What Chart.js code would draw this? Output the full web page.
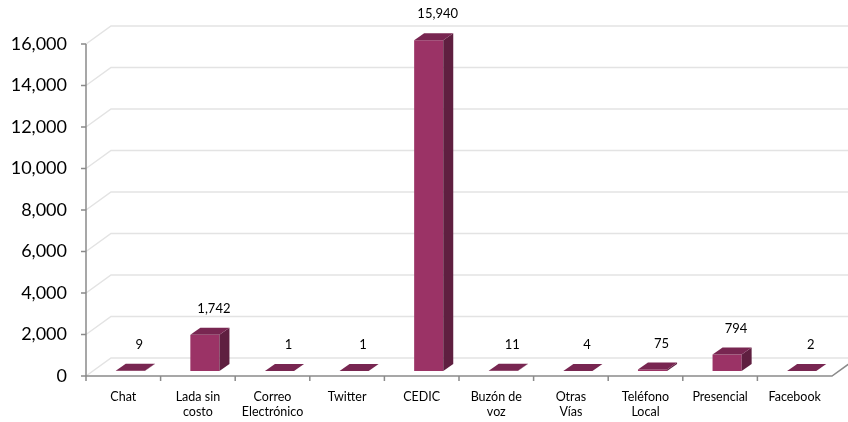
<!DOCTYPE html>
<html>
<head>
<meta charset="utf-8">
<script src="https://cdn.jsdelivr.net/npm/chart.js@4.4.1/dist/chart.umd.min.js"></script>
<style>
body{margin:0;background:#fff}
</style>
</head>
<body>
<canvas id="Grafica1" width="848" height="422"></canvas>
<script>
// datos de la grafica
const categorias = ['Chat', ['Lada sin','costo'], ['Correo','Electrónico'], 'Twitter', 'CEDIC', ['Buzón de','voz'], ['Otras','Vías'], ['Teléfono','Local'], 'Presencial', 'Facebook'];
const valores = [9, 1742, 1, 1, 15940, 11, 4, 75, 794, 2];
const ticksY = [0, 2000, 4000, 6000, 8000, 10000, 12000, 14000, 16000];

// profundidad de la caja 3D y de las barras
const PROF_X = 25, PROF_Y = -18;
const BARRA_X = 7, BARRA_Y = -5;
const LADO_X = 10, LADO_Y = -7;

const fuente = 'Lato';

const caja3D = {
    id: 'caja3D',
    beforeDatasetsDraw(chart) {
        const ctx = chart.ctx;
        const {left, right, top, bottom} = chart.chartArea;
        const y = chart.scales.y;
        ctx.save();
        // lineas de fondo
        ctx.strokeStyle = '#e3e3e3';
        ctx.lineWidth = 1.5;
        ticksY.forEach(v => {
            const py = y.getPixelForValue(v);
            ctx.beginPath();
            ctx.moveTo(left, py);
            ctx.lineTo(left + PROF_X, py + PROF_Y);
            ctx.lineTo(right + PROF_X, py + PROF_Y);
            ctx.stroke();
        });
        // ejes
        ctx.strokeStyle = '#8a8a8a';
        ctx.beginPath();
        ctx.moveTo(left, top);
        ctx.lineTo(left, bottom);
        ctx.lineTo(right, bottom);
        ctx.lineTo(right + PROF_X, bottom + PROF_Y);
        ticksY.forEach(v => {
            const py = y.getPixelForValue(v);
            ctx.moveTo(left - 5, py);
            ctx.lineTo(left, py);
        });
        const paso = (right - left) / categorias.length;
        for (let i = 0; i < categorias.length; i++) {
            ctx.moveTo(left + paso * i, bottom);
            ctx.lineTo(left + paso * i, bottom + 5);
        }
        ctx.stroke();
        ctx.restore();
    },
    afterDatasetsDraw(chart) {
        const ctx = chart.ctx;
        const meta = chart.getDatasetMeta(0);
        ctx.save();
        meta.data.forEach((barra, i) => {
            const p = barra.getProps(['x', 'y', 'base', 'width'], true);
            const x0 = p.x - p.width / 2 + BARRA_X;
            const x1 = x0 + p.width;
            const yTop = p.y + BARRA_Y;
            const yBase = p.base + BARRA_Y;
            // frente
            ctx.fillStyle = '#9b3366';
            ctx.fillRect(x0, yTop, p.width, yBase - yTop);
            // lado
            ctx.fillStyle = '#5f1f40';
            ctx.beginPath();
            ctx.moveTo(x1, yTop);
            ctx.lineTo(x1 + LADO_X, yTop + LADO_Y);
            ctx.lineTo(x1 + LADO_X, yBase + LADO_Y);
            ctx.lineTo(x1, yBase);
            ctx.closePath();
            ctx.fill();
            // tapa
            ctx.fillStyle = '#782651';
            ctx.beginPath();
            ctx.moveTo(x0, yTop);
            ctx.lineTo(x1, yTop);
            ctx.lineTo(x1 + LADO_X, yTop + LADO_Y);
            ctx.lineTo(x0 + LADO_X, yTop + LADO_Y);
            ctx.closePath();
            ctx.fill();
            // etiqueta
            ctx.fillStyle = '#000';
            ctx.font = '13px ' + fuente;
            ctx.textAlign = 'center';
            ctx.textBaseline = 'middle';
            ctx.fillText(valores[i].toLocaleString('en-US'), p.x + 16, p.y - 31);
        });
        ctx.restore();
    }
};

const grafica1 = document.getElementById('Grafica1').getContext('2d');
const chart1 = new Chart(grafica1, {
    type: 'bar',
    data: {
        labels: categorias,
        datasets: [{
            label: 'Atenciones',
            data: valores,
            backgroundColor: 'rgba(0,0,0,0)',
            barPercentage: 0.39,
            categoryPercentage: 1
        }]
    },
    options: {
        responsive: false,
        animation: false,
        layout: {padding: {top: 44, right: 16, left: 0, bottom: 0}},
        plugins: {legend: {display: false}, tooltip: {enabled: false}},
        scales: {
            x: {
                grid: {display: false, drawTicks: false},
                border: {display: false},
                ticks: {color: '#000', font: {family: fuente, size: 12.5}, padding: 13, maxRotation: 0, autoSkip: false},
                afterFit(s) { s.height = 46; }
            },
            y: {
                min: 0,
                max: 16000,
                grid: {display: false, drawTicks: false},
                border: {display: false},
                ticks: {
                    color: '#000',
                    font: {family: fuente, size: 18},
                    padding: 19,
                    callback: v => v.toLocaleString('en-US')
                },
                afterBuildTicks(s) { s.ticks = ticksY.map(v => ({value: v})); },
                afterFit(s) { s.width = 86; }
            }
        }
    },
    plugins: [caja3D]
});
</script>
</body>
</html>
